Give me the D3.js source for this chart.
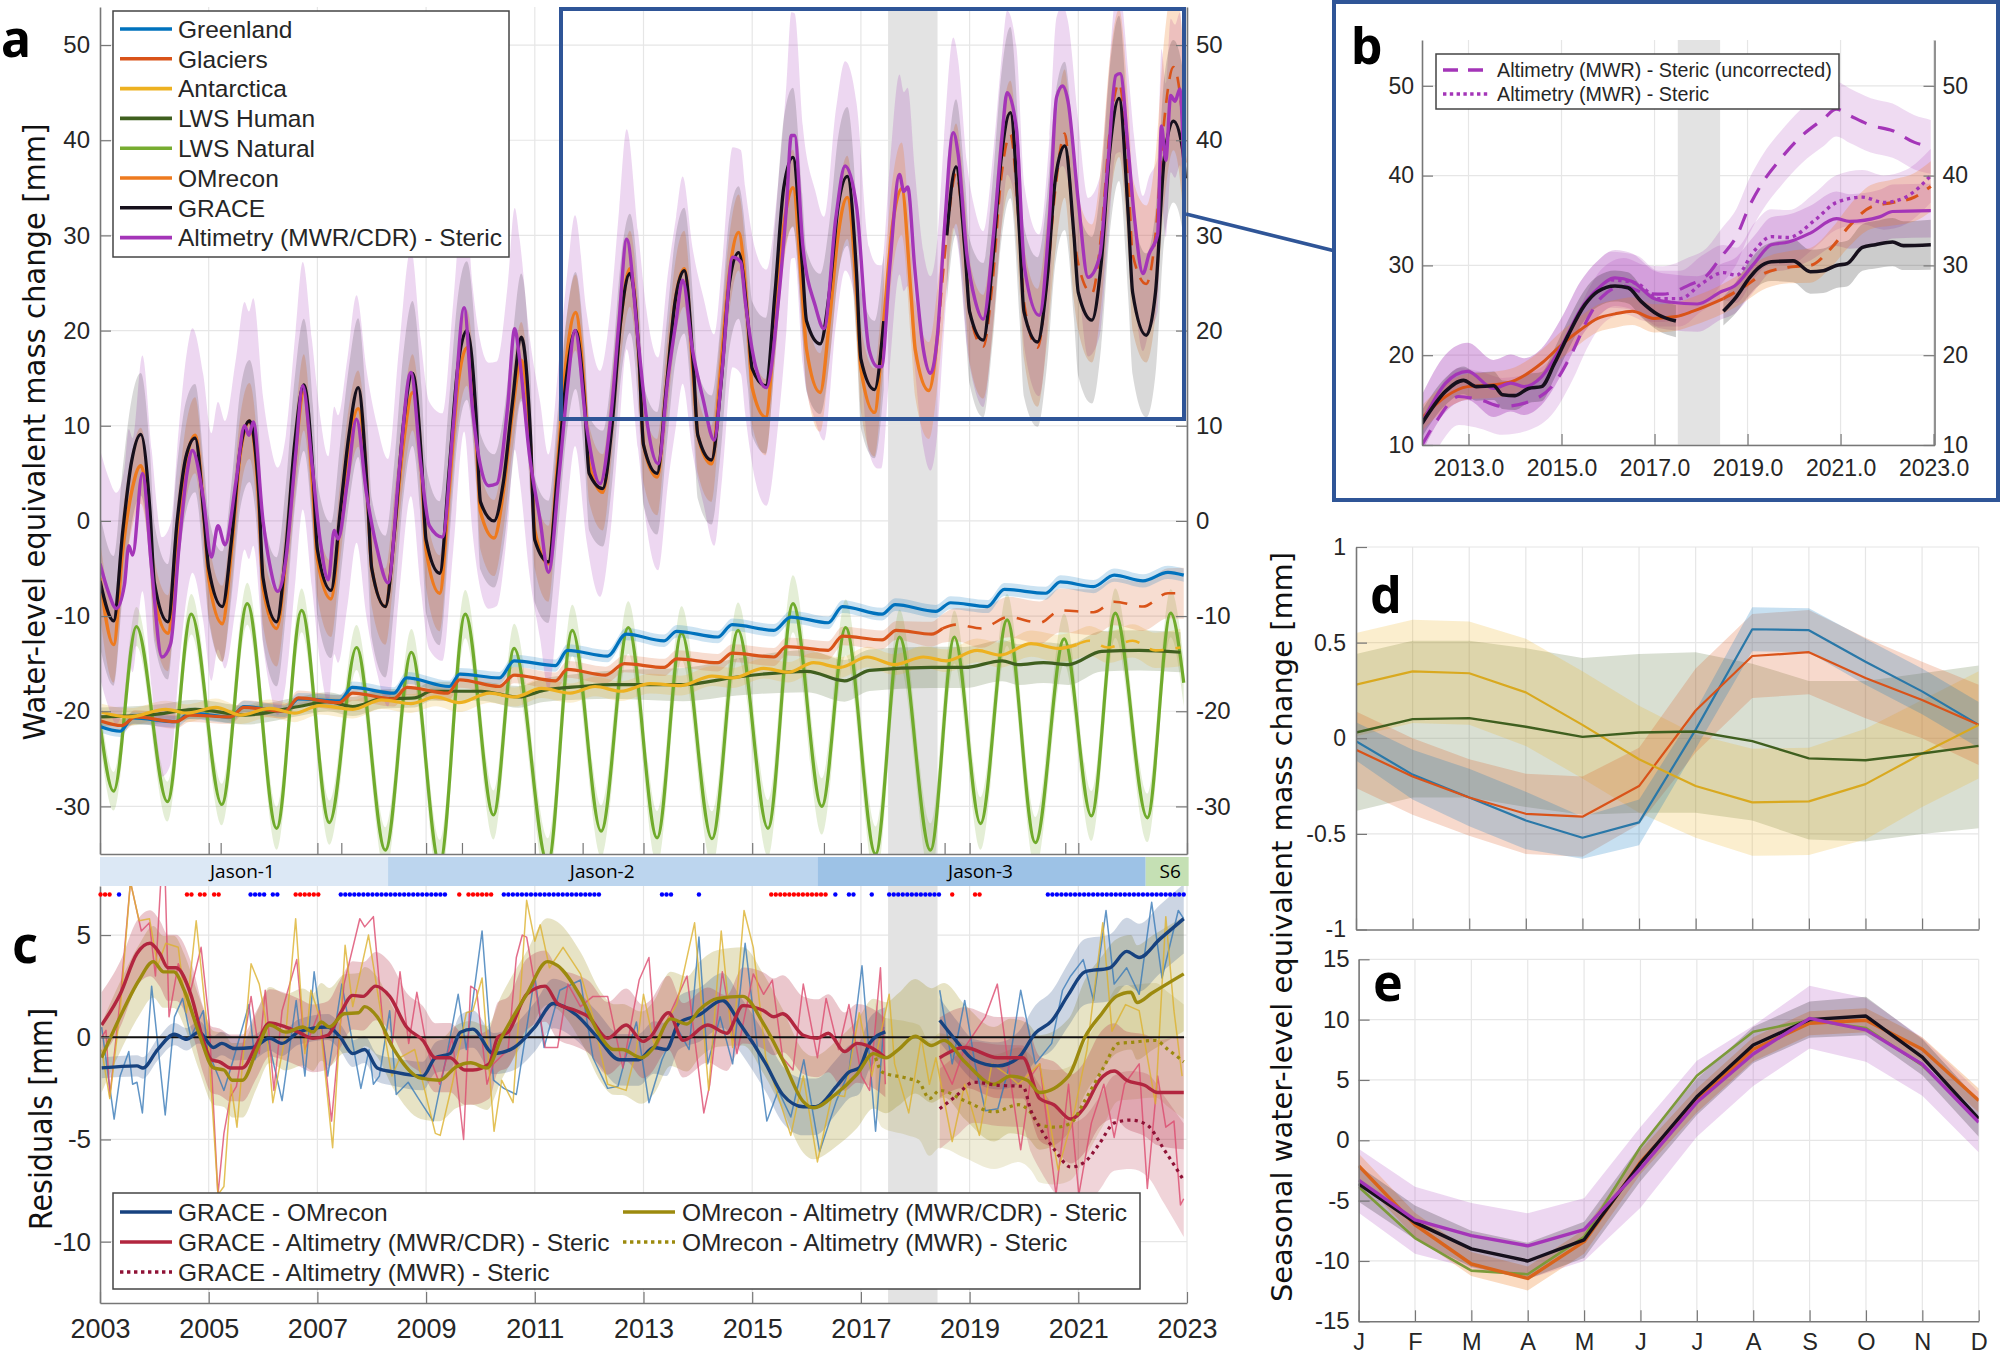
<!DOCTYPE html>
<html>
<head>
<meta charset="utf-8">
<script src="https://cdn.jsdelivr.net/npm/d3@7"></script>
<style>
html, body { margin: 0; padding: 0; background: #fff; }
svg { display: block; }
text { font-family: "Liberation Sans", Arial, sans-serif; fill: #262626; }
</style>
</head>
<body>
<div id="chart"></div>
<script>
// ---- panel a: values per year at Jan, Apr, Jun, Aug, Oct, Dec, plus a last point
const cycleOffsets = [0, .25, .42, .58, .75, .92];
const graceA = [
  -6.3, -10.5, -1, 6.2, 9.1, 1,
  -6.5, -10.6, 0, 6.7, 8.7, 0,
  -5, -9, -2, 7.5, 10.5, 3,
  -6, -10.6, -3, 8, 14.3, 5,
  -3, -7.3, 1, 9, 14, 3,
  -5, -9, -1, 10, 15.5, 6,
  -2, -5.5, 5, 16, 20, 11,
  2, 0, 4, 12, 19.3, 9,
  -2, -4.3, 5, 15, 20, 12,
  5, 3.4, 10, 21, 26, 17,
  8, 5, 14, 23, 26.3, 16,
  9, 6.4, 14, 25, 28.2, 21,
  16, 14.2, 24, 35, 38.2, 27,
  21, 18.6, 24, 33, 36.2, 26,
  17, 13.8, 21, null, null, null,
  null, null, null, 30, 37.2, 28,
  22, 19, 27, 38, 42.9, 30,
  22, 18.8, 25, 36, 39.4, 30,
  24, 21.1, 27, 39, 44.4, 32,
  24, 19.5, 24, 38, 42, 39,
  36
];
const omreconA = [
  -6, -13, -3, 3, 5.8, -1,
  -8, -11.8, -2, 6, 9, 0,
  -6, -10.8, -3, 7, 10.5, 2,
  -7, -11.3, -4, 6, 13.5, 3,
  -4, -8.2, 0, 8, 11.8, 3,
  -5, -9, -1, 8, 13.5, 5,
  -3, -7.6, 3, 14, 18.2, 9,
  1, -1.8, 3, 11, 16.9, 8,
  -1, -4.5, 6, 17, 21.9, 13,
  6, 3, 11, 21, 26.5, 17,
  8, 4.6, 14, 23, 26.5, 15,
  9, 6, 16, 26, 30.3, 21,
  14, 10.9, 21, 31, 35, 24,
  18, 13.5, 21, 30, 34, 24,
  16, 11.4, 21, 31, 34.9, 24,
  18, 13.7, 20, 30, 36.5, 28,
  22, 18.3, 25, 36, 40.6, 30,
  23, 18.2, 25, 35, 40.7, 30,
  27, 23.9, 30, 41, 46, 36,
  28, 24.9, 30, 42, 47.7, 42,
  37
];
const altimetryA = [
  [2003,-4.5],[2003.15,-7.4],[2003.3,-9.2],[2003.45,-6.7],[2003.53,-2.6],[2003.6,-3.6],[2003.78,5],[2003.95,-5],
  [2004.14,-14.3],[2004.3,-12.9],[2004.45,-3],[2004.6,5],[2004.7,7.4],[2004.9,2.4],[2005.05,-3.8],[2005.17,-.5],
  [2005.3,-2.5],[2005.5,4],[2005.66,10],[2005.74,9],[2005.82,10.4],[2006,0],[2006.12,-4.5],[2006.27,-7.4],
  [2006.42,-4],[2006.6,7],[2006.73,14.2],[2006.9,6],[2007.05,-2],[2007.2,-6.2],[2007.31,-1],[2007.38,-1.9],
  [2007.55,4],[2007.72,10.7],[2007.9,3],[2008.1,-3],[2008.3,-6.5],[2008.5,5],[2008.72,15.6],[2008.9,6],
  [2009.06,-.5],[2009.3,-1.7],[2009.5,10],[2009.7,22.4],[2009.85,12],[2010,5.8],[2010.15,3.7],[2010.3,3.9],
  [2010.5,12],[2010.63,20.2],[2010.72,17],[2010.9,7],[2011.1,0],[2011.25,-5.4],[2011.45,5],[2011.6,14],
  [2011.74,20],[2011.95,10],[2012.2,3.9],[2012.4,11],[2012.55,21],[2012.69,29.6],[2012.9,19],[2013.05,11],
  [2013.27,6],[2013.45,15],[2013.6,21],[2013.72,25.3],[2013.9,18],[2014.1,12.7],[2014.3,8.5],[2014.45,16],
  [2014.64,27.7],[2014.79,27.2],[2014.87,23.2],[2015.06,16.3],[2015.26,14],[2015.48,23],[2015.63,33],[2015.72,40.5],
  [2015.78,40.5],[2015.93,29],[2016.16,22.6],[2016.32,20.2],[2016.54,31.9],[2016.71,37.3],[2016.92,33],[2017.15,18],
  [2017.31,16.2],[2017.38,16.2],[2017.53,26.6],[2017.71,36.4],[2017.79,34.6],[2017.86,35.1],[2017.99,26.6],[2018.15,18],
  [2018.28,15.5],[2018.41,19.6],[2018.53,30.1],[2018.7,40.8],[2018.79,38.5],[2018.95,28],[2019.1,23.2],[2019.25,21.2],
  [2019.44,30.1],[2019.6,40.6],[2019.69,45],[2019.86,41.3],[2020.01,26.6],[2020.28,21.6],[2020.47,31.9],[2020.6,44.5],
  [2020.71,45.7],[2020.81,44.1],[2021,33.6],[2021.18,25.6],[2021.39,27.7],[2021.54,37.2],[2021.69,46.8],[2021.77,47],
  [2021.92,38.9],[2022.03,32],[2022.19,26],[2022.3,28],[2022.46,30.1],[2022.53,41.5],[2022.61,37.9],[2022.7,44.7],
  [2022.78,44.1],[2022.87,45.4],[2022.94,37]
];
const lwsNaturalA = [
  [2003,-21.3],[2003.25,-28.4],[2003.67,-11.1],[2004.24,-29.5],[2004.68,-9.8],[2005.24,-29.8],[2005.71,-8.7],
  [2006.25,-32.3],[2006.71,-9.4],[2007.22,-31.7],[2007.72,-13.3],[2008.25,-34.6],[2008.73,-13.8],[2009.25,-36],
  [2009.72,-9.8],[2010.24,-30.9],[2010.62,-13.4],[2011.24,-36],[2011.69,-11.5],[2012.22,-32.6],[2012.72,-11.2],
  [2013.25,-33.3],[2013.7,-11.8],[2014.26,-33.4],[2014.74,-11.5],[2015.29,-32.3],[2015.75,-8.7],[2016.28,-30],
  [2016.72,-11.2],[2017.27,-35],[2017.71,-12.2],[2018.28,-34.6],[2018.72,-12.2],[2019.2,-31.8],[2019.69,-10.4],
  [2020.21,-33.8],[2020.74,-12.4],[2021.24,-31],[2021.68,-9.7],[2022.27,-31.2],[2022.7,-9.7],[2022.94,-17]
];
const greenlandA = [
  [2003,-21.6],[2003.37,-22.1],[2003.6,-20.7],[2004.4,-21.1],[2004.65,-20.2],[2005.4,-20.6],[2005.65,-19.5],[2006.4,-20],
  [2006.65,-18.7],[2007.41,-18.9],[2007.64,-17.5],[2008.41,-18.1],[2008.64,-16.5],[2009.43,-17.4],[2009.62,-16.1],[2010.35,-16.5],
  [2010.62,-14.7],[2011.38,-15.2],[2011.6,-13.6],[2012.34,-14.2],[2012.68,-11.9],[2013.38,-12.6],[2013.61,-11.6],[2014.37,-12.2],
  [2014.63,-10.9],[2015.4,-11.5],[2015.71,-10.1],[2016.4,-10.7],[2016.66,-9],[2017.39,-9.8],[2017.63,-8.8],[2018.38,-9.5],
  [2018.65,-8.6],[2019.33,-9],[2019.64,-7.2],[2020.4,-7.6],[2020.67,-6.4],[2021.28,-6.9],[2021.66,-5.7],[2022.19,-6.3],
  [2022.65,-5.4],[2022.94,-5.7]
];
const glaciersA = [
  [2003,-21],[2003.4,-21.5],[2003.65,-20.6],[2004.4,-21.1],[2004.65,-20.4],[2005.4,-20.6],[2005.65,-19.6],[2006.4,-20],
  [2006.65,-18.6],[2007.4,-19.1],[2007.65,-18.1],[2008.4,-18.7],[2008.65,-17.5],[2009.4,-18.1],[2009.62,-16.7],[2010.35,-17.4],
  [2010.62,-16.2],[2011.38,-16.8],[2011.6,-15.6],[2012.3,-16.2],[2012.65,-15],[2013.38,-15.4],[2013.61,-14.5],[2014.37,-14.9],
  [2014.63,-13.9],[2015.4,-14.3],[2015.63,-13.2],[2016.4,-13.6],[2016.66,-12.1],[2017.39,-12.5],[2017.65,-11.5],[2018.3,-11.9],
  [2018.5,-11.3]
];
const glaciersDashA = [
  [2018.5,-11.3],[2018.76,-10.9],[2019.22,-11.3],[2019.71,-10.1],[2020.29,-10.7],[2020.67,-9.4],[2021.28,-9.6],[2021.66,-8.5],
  [2022.19,-9],[2022.65,-7.6],[2022.94,-7.6]
];
const antarcticaA = [
  [2003.03,-20.1],[2003.53,-20.6],[2004.21,-19.8],[2004.6,-20.2],[2005.13,-19.6],[2005.59,-20.4],[2006.12,-19.7],[2006.58,-20.2],
  [2007.04,-19.4],[2007.65,-19.8],[2008.18,-18.8],[2008.72,-19.2],[2009.18,-18.5],[2009.6,-19.1],[2010.17,-18.1],[2010.63,-18.5],
  [2011.12,-17.6],[2011.65,-18.1],[2012.11,-17.4],[2012.58,-17.9],[2013.12,-17.1],[2013.69,-17.3],[2014.26,-16.3],[2014.64,-16.5],
  [2015.21,-15.5],[2015.67,-15.9],[2016.13,-14.9],[2016.62,-15.4],[2017.12,-14.3],[2017.62,-15.1],[2018.15,-14.3],[2018.57,-14.7],
  [2019.14,-13.6],[2019.56,-14.1],[2020.13,-12.9],[2020.63,-13.4],[2020.97,-13]
];
const antarcticaDashA = [
  [2020.97,-13],[2021.2,-12.6],[2021.54,-13.3],[2022,-12.6],[2022.42,-13.6],[2022.88,-13.3]
];
const lwsHumanA = [
  [2003,-20.6],[2004.06,-20.3],[2004.75,-19.8],[2005.66,-20.4],[2006.66,-19.5],[2007.19,-19],[2007.65,-19.5],[2008.18,-18.7],
  [2008.79,-18.6],[2009.1,-17.9],[2010.01,-17.9],[2010.7,-18.5],[2011.16,-17.8],[2011.85,-17.4],[2012.43,-17.2],[2013.73,-17.2],
  [2014.72,-16.4],[2016.01,-15.8],[2016.7,-16.8],[2017.16,-15.7],[2018.3,-15.4],[2018.91,-15.4],[2019.6,-14.7],[2019.9,-15.1],
  [2020.36,-14.9],[2020.82,-15.1],[2021.43,-13.7],[2022.12,-13.6],[2022.88,-13.8]
];
// half widths of the uncertainty bands: [year, half width]
const altimetryHalfA = [[2003,12],[2005,13],[2008,13],[2010,13],[2012,12],[2014,10.7],[2015.7,13],[2016.7,11],[2018.7,10],[2019.7,8.6],[2023,8]];
const graceHalfA = [[2003,7],[2005,5.5],[2006,6.7],[2009,7.7],[2012,6],[2016,7.4],[2018.7,7],[2019.7,9],[2023,8.5]];
const omreconHalfA = [[2003,4],[2016,4],[2018,5],[2019.7,5.6],[2021,7],[2023,9]];
const lwsNaturalHalf = [[2003,2],[2015.7,3],[2023,2.5]];
const greenlandHalf = [[2003,.6],[2023,.7]];
const glaciersHalf = [[2003,.7],[2018,1],[2019,2],[2023,2.7]];
const antarcticaHalf = [[2003,.9],[2018,1.1],[2021,1.5],[2023,2]];
const lwsHumanHalf = [[2003,1],[2010,1],[2016,2.2],[2023,2.1]];

const yTicksA = [-30, -20, -10, 0, 10, 20, 30, 40, 50];
const xTicksYears = [2003, 2005, 2007, 2009, 2011, 2013, 2015, 2017, 2019, 2021, 2023];
const xExtraTicksA = [2005.22, 2007.44, 2009.66, 2011.88, 2014.1, 2016.32, 2018.54, 2020.76];
const gapYears = [2017.5, 2018.41];

// ---- panel b
const graceB = [
  [2012,12.4],[2012.51,16],[2012.89,17.2],[2013.17,16.5],[2013.54,16.6],[2013.73,15.6],[2014,15.5],[2014.29,16.3],[2014.57,16.5],
  [2014.85,19.1],[2015.13,22.1],[2015.5,25.6],[2015.78,27.1],[2016.15,27.7],[2016.43,27.5],[2016.71,26],[2017.08,24.5],[2017.46,23.8],
  [2018,null],
  [2018.48,24.9],[2018.76,26.5],[2019.04,28.6],[2019.23,29.7],[2019.51,30.4],[2019.98,30.5],[2020.35,29.3],[2020.63,29.4],[2020.91,30],
  [2021.14,30.2],[2021.47,32],[2021.75,32.3],[2022.12,32.6],[2022.35,32.2],[2022.94,32.3]
];
const altimetryB = [
  [2012,12.4],[2012.51,16.9],[2012.98,18.2],[2013.54,16.3],[2013.91,16.9],[2014.19,16.5],[2014.57,17.6],[2015.03,21.3],[2015.4,25],
  [2015.78,27.4],[2016.15,28.6],[2016.52,28.2],[2016.99,26.3],[2017.36,25.9],[2017.92,25.7],[2018.44,27.1],[2018.72,27.7],[2019.14,30.2],
  [2019.51,32.3],[2019.88,32.6],[2020.35,33.6],[2020.91,35.2],[2021.19,34.9],[2021.84,35.4],[2022.12,36],[2022.94,36.1]
];
const uncorrectedB = [
  [2012,10],[2012.33,12.8],[2012.79,15.4],[2013.26,15],[2013.73,14.3],[2014.29,14.8],[2014.85,16.9],[2015.22,20.2],[2015.59,24.3],
  [2015.87,26.5],[2016.34,27.7],[2016.8,26.9],[2017.18,26.8],[2017.74,27.8],[2018.11,28.8],[2018.44,31],[2018.76,33.2],[2019.04,36.6],
  [2019.32,39.2],[2019.7,41.8],[2020.16,44.4],[2020.63,46.3],[2020.91,47.4],[2021.19,46.7],[2021.65,45.6],[2022.12,45],[2022.59,43.7],[2022.94,43.2]
];
const dottedB = [
  [2016.06,28.4],[2016.62,28],[2017.08,26.3],[2017.55,26.3],[2018.02,28],[2018.48,29.2],[2018.76,28.9],[2019.14,31.6],[2019.51,33.2],
  [2019.88,33.1],[2020.44,35],[2020.91,37],[2021.47,37.6],[2021.93,37],[2022.4,37.6],[2022.94,40]
];
const omreconB = [
  [2012,13],[2012.51,15.4],[2012.98,16.5],[2013.54,16.7],[2014,17.2],[2014.57,19.1],[2015.03,21.3],[2015.4,22.8],[2015.78,24.1],
  [2016.15,24.6],[2016.52,24.9],[2016.99,24.1],[2017.46,24.3],[2017.83,24.9],[2018.48,26.3]
];
const omreconDashB = [
  [2018.48,26.3],[2018.95,27.7],[2019.32,29],[2019.88,29.8],[2020.35,30],[2020.81,32],[2021.19,34.4],[2021.65,36.5],[2022.12,37],[2022.59,37.6],[2022.94,38.8]
];
const graceHalfB = [[2012,1.5],[2017.5,1.8],[2018.5,1.6],[2020,2.4],[2023,2.8]];
const omreconHalfB = [[2012,1.4],[2018,1.6],[2020,1.8],[2021.5,2.4],[2023,2.8]];
const altimetryHalfB = [[2012,3.2],[2023,3]];
const yTicksB = [10, 20, 30, 40, 50];
const xTicksB = [2013, 2015, 2017, 2019, 2021, 2023];

// ---- panel c
const missionNames = ['Jason-1', 'Jason-2', 'Jason-3', 'S6'];
const missionStarts = [2003, 2008.3, 2016.2, 2022.24];
const missionEnds = [2008.3, 2016.2, 2022.24, 2023.03];
const missionTextX = [2005.62, 2012.24, 2019.2, 2022.69];
const blueRuns = [[2003.35,2003.35],[2005.77,2006.04],[2006.18,2006.29],[2007.43,2009.38],[2010.43,2012.2],[2013.34,2013.53],[2014.02,2014.02],
  [2016.53,2016.53],[2016.78,2016.87],[2017.2,2017.2],[2017.52,2018.45],[2020.44,2022.96]];
const redRuns = [[2003.01,2003.2],[2004.6,2004.71],[2004.84,2004.95],[2005.1,2005.2],[2006.6,2007.04],[2009.61,2009.61],[2009.78,2010.19],
  [2015.35,2016.38],[2018.68,2018.68],[2019.1,2019.2]];

const thinGraceOm = [
  [2003.03,.5],[2003.26,-4],[2003.37,-1.9],[2003.53,-.7],[2003.6,-2.3],[2003.68,-2.2],[2003.78,-3.7],[2003.95,2.5],[2004.2,-3.8],[2004.37,1],
  [2004.52,1.9],[2004.67,0],[2004.9,1.3],[2004.98,-.6],[2005.28,-2.6],[2005.43,-1.3],[2005.74,1.6],[2005.85,-1.1],[2006.04,.5],[2006.35,-3.1],
  [2006.61,1.8],[2006.77,-1.9],[2006.94,3.2],[2007.19,-1.9],[2007.45,2.6],[2007.8,-2.5],[2007.95,-.6],[2008.03,-2.3],[2008.14,-1.9],[2008.33,1.3],
  [2008.45,-2.8],[2008.67,-2.2],[2008.86,-3],[2009.13,-4.1],[2009.4,-.6],[2009.59,2.1],[2009.74,-.6],[2010.03,5.2],[2010.24,-2.1],[2010.43,-2.5],
  [2010.66,-2.8],[2011,3],[2011.17,-.5],[2011.46,2.3],[2011.84,2.8],[2012.07,-1],[2012.34,-2.5],[2012.53,-2.4],[2012.68,-.9],[2012.87,.75],
  [2013.1,-3.2],[2013.34,-1.1],[2013.61,.5],[2013.84,-.6],[2014.02,4.9],[2014.18,-1.3],[2014.41,1],[2014.64,-1.3],[2014.87,4.6],[2015.14,-1.5],
  [2015.27,-4.1],[2015.48,-2.6],[2015.71,-3.9],[2015.95,-1.1],[2016.24,-5.6],[2016.55,-3.1],[2016.78,-1.7],[2017.02,3.5],[2017.27,-4.6],[2017.42,.5],
  [2018,null],
  [2018.45,2.3],[2018.68,-1.3],[2018.91,1.8],[2019.1,-1.3],[2019.29,-3.6],[2019.52,-3.5],[2019.71,-1.6],[2019.94,2.3],[2020.21,-1.3],[2020.51,-.3],
  [2020.71,2.3],[2020.86,3],[2021.09,3.8],[2021.28,1.8],[2021.51,6.2],[2021.66,2.6],[2021.89,3.4],[2022.12,2.1],[2022.35,6.6],[2022.54,2.9],
  [2022.84,6.2],[2022.94,5.8]
];
const thinGraceAlt = [
  [2003.03,0],[2003.11,.34],[2003.18,-2.9],[2003.37,1.8],[2003.56,7.6],[2003.76,5.2],[2003.91,5.6],[2004.02,3],[2004.12,7.7],[2004.2,7.7],
  [2004.27,1],[2004.44,3.6],[2004.67,2.3],[2004.86,4.4],[2005.01,.7],[2005.17,-7.7],[2005.28,-4.7],[2005.4,-2.9],[2005.51,-2.4],[2005.66,0],
  [2005.78,2],[2005.93,-.8],[2006.04,2.3],[2006.2,-2.6],[2006.35,1.3],[2006.62,3.8],[2006.77,-.6],[2006.88,.2],[2007.04,1.3],[2007.26,-4.1],
  [2007.49,2.6],[2007.78,5.8],[2007.87,5.4],[2008.03,5.9],[2008.22,.2],[2008.37,-.5],[2008.52,3.2],[2008.68,-.3],[2008.83,2.2],[2009.02,-.6],
  [2009.25,-2.3],[2009.48,0],[2009.69,-5],[2009.82,2.5],[2009.93,2.3],[2010.12,-2.3],[2010.24,-1.3],[2010.51,-.6],[2010.66,3.9],[2010.77,5],
  [2010.85,4.9],[2011,2.6],[2011.19,-.5],[2011.42,-.5],[2011.61,2.6],[2011.84,1.5],[2012.07,2],[2012.34,2],[2012.62,-1.5],[2012.92,2.8],
  [2013.1,3.9],[2013.23,-.6],[2013.46,1],[2013.8,3],[2014.11,-3.7],[2014.22,-2.3],[2014.45,3.2],[2014.72,-.8],[2015.02,3.1],[2015.21,2.1],
  [2015.37,2.8],[2015.56,-1],[2015.75,-1.6],[2015.94,2.6],[2016.2,-1],[2016.36,1.9],[2016.59,-.6],[2016.78,1.6],[2017.01,-1.9],[2017.16,-2.6],
  [2017.36,3.4],[2017.45,-2.3],
  [2018,null],
  [2018.45,-1],[2018.68,-2.3],[2018.91,-.5],[2019.29,1],[2019.51,2.6],[2019.71,-1.3],[2019.94,-5.5],[2020.13,-1.9],[2020.29,-1.3],[2020.59,-7.7],
  [2020.82,-2.3],[2021.01,-7.7],[2021.24,-4.2],[2021.47,-2.3],[2021.66,-4.9],[2021.85,-2.3],[2022.12,-1.3],[2022.27,-7.4],[2022.46,-1.9],[2022.61,-4.4],
  [2022.76,-4.1],[2022.88,-8.2],[2022.94,-7.9]
];
const thinOmAlt = [
  [2003.03,-.6],[2003.18,-3],[2003.37,1.3],[2003.56,7.6],[2003.72,5.7],[2003.91,5.8],[2004.06,3.5],[2004.21,4.6],[2004.44,4.4],[2004.59,1.2],
  [2004.77,5.7],[2004.98,.3],[2005.17,-7.7],[2005.28,-7.3],[2005.41,-2.3],[2005.52,-4.4],[2005.66,-.15],[2005.78,3.6],[2005.93,2.6],[2006.04,1],
  [2006.18,-3.2],[2006.42,.2],[2006.6,5.8],[2006.77,-.8],[2006.88,2.3],[2007.04,1],[2007.28,-5.4],[2007.51,4.5],[2007.65,1.5],[2007.94,5],
  [2008.18,1],[2008.37,-1.9],[2008.52,-1],[2008.79,-.6],[2009.17,-4.7],[2009.26,-4.8],[2009.48,-2.3],[2009.74,1.2],[2009.86,1.3],[2010.03,2.9],
  [2010.25,-4.6],[2010.39,-2.1],[2010.6,-3.2],[2010.85,6.7],[2011,4.7],[2011.1,5.5],[2011.27,3.4],[2011.52,4.4],[2011.84,3.1],[2012.07,1],
  [2012.34,-2.3],[2012.68,-2.6],[2012.87,-.6],[2013,2.1],[2013.19,-.3],[2013.61,1.6],[2013.94,5.6],[2014.2,-2.6],[2014.43,5.2],[2014.64,-.5],
  [2014.85,6.2],[2015.02,4.4],[2015.25,-1],[2015.71,-4.8],[2015.94,-1.9],[2016.2,-6.1],[2016.47,-2.8],[2016.7,-2.9],[2016.97,1.2],[2017.2,-1.9],
  [2017.52,2.1],[2017.62,-1.3],[2017.88,-3.7],[2018.11,0],[2018.26,-2.3],[2018.38,-1],[2018.68,-5.1],[2018.91,-2.3],[2019.18,-4.8],[2019.41,-1.3],
  [2019.68,-1.8],[2019.9,-2.3],[2020.29,-1.3],[2020.63,-6.5],[2020.93,-3.6],[2021.16,-.6],[2021.45,5.6],[2021.62,.3],[2021.87,1.6],[2022.12,1.3],
  [2022.42,-3.25],[2022.61,5.9],[2022.76,1.3],[2022.91,-1.9]
];
const resGraceOm = [
  [2003.03,-1.5],[2003.68,-1.4],[2003.79,-1.5],[2004.06,-.6],[2004.37,.15],[2004.59,-.1],[2004.82,.25],[2005.09,-.5],[2005.24,-.3],[2005.47,-.55],
  [2005.81,-.5],[2006.12,-.05],[2006.35,-.3],[2006.65,.25],[2007.19,.5],[2007.42,0],[2007.65,-.8],[2007.87,-.6],[2008.1,-1.5],[2008.41,-1.7],
  [2008.94,-1.9],[2009.17,-1],[2009.44,-.8],[2009.63,.25],[2009.86,.4],[2010.24,-.8],[2010.62,-.5],[2011,.5],[2011.34,1.65],[2011.76,1.1],
  [2012.15,0],[2012.56,-1.1],[2012.91,-1.1],[2013.19,-.5],[2013.42,-.6],[2013.65,.7],[2014.03,1.1],[2014.45,1.8],[2014.79,.6],[2015.25,-1.3],
  [2015.56,-2.8],[2015.94,-3.4],[2016.17,-3.4],[2016.55,-2.4],[2016.78,-1.7],[2016.97,-1.5],[2017.16,-.3],[2017.45,.26],
  [2018,null],
  [2018.45,.83],[2018.76,-.2],[2019.07,-1.1],[2019.52,-1.4],[2019.9,-1],[2020.21,.2],[2020.51,.8],[2020.82,2.1],[2021.12,3.2],[2021.58,3.4],
  [2021.89,4.2],[2022.12,3.9],[2022.5,4.8],[2022.94,5.8]
];
const resGraceAlt = [
  [2003.03,.6],[2003.37,2.1],[2003.68,4.1],[2003.92,4.6],[2004.1,4.1],[2004.25,3.4],[2004.4,3.4],[2004.67,2.1],[2004.9,-.15],[2005.05,-1.1],
  [2005.2,-1.2],[2005.4,-1.5],[2005.62,-1.5],[2005.89,-.3],[2006.12,.7],[2006.42,.5],[2006.65,.25],[2006.92,-.05],[2007.19,.1],[2007.42,1.15],
  [2007.65,2.05],[2007.84,2],[2008.07,2.5],[2008.33,2],[2008.64,.5],[2008.94,-.15],[2009.17,-1],[2009.44,-1],[2009.71,-1.6],[2009.86,-1.6],
  [2010.16,-1.3],[2010.32,0],[2010.51,.25],[2010.85,2.1],[2011.19,2.5],[2011.42,1.65],[2011.76,1.3],[2011.99,1],[2012.34,-.05],[2012.68,.6],
  [2012.99,-.2],[2013.12,0],[2013.46,1.2],[2013.73,-.15],[2014.18,.6],[2014.53,.2],[2014.83,1.55],[2015.21,1.3],[2015.4,1],[2015.56,1.15],
  [2015.94,.1],[2016.2,-.05],[2016.4,.2],[2016.7,-.7],[2016.93,-.3],[2017.31,-.7],[2017.45,-1],
  [2018,null],
  [2018.45,-1],[2018.91,-.5],[2019.52,-1],[2019.98,-1],[2020.29,-3],[2020.55,-3.3],[2020.86,-4],[2021.12,-3.4],[2021.39,-2.1],[2021.66,-1.65],
  [2021.89,-2.1],[2022.22,-2.35],[2022.46,-2.7],[2022.94,-2.7]
];
const resOmAlt = [
  [2003.03,-1],[2003.37,1],[2003.72,2.8],[2003.98,3.7],[2004.17,3.2],[2004.36,3.2],[2004.55,2.3],[2004.82,.2],[2005.09,-1.5],[2005.28,-1.6],
  [2005.43,-2.1],[2005.62,-2.1],[2005.89,-.6],[2006.12,.6],[2006.42,.25],[2006.73,.5],[2006.92,.25],[2007.07,.75],[2007.22,.5],[2007.49,1.15],
  [2007.76,1.2],[2007.87,1.5],[2008.1,1],[2008.41,-.6],[2008.9,-2],[2009.25,-2.1],[2009.55,-1.45],[2009.82,-1.25],[2010.12,-1.5],[2010.39,0],
  [2010.85,2.1],[2011.23,3.7],[2011.42,3.5],[2011.84,2],[2012.22,0],[2012.45,-.6],[2012.61,-.6],[2012.96,-1],[2013.19,-.5],[2013.5,.9],
  [2013.8,.65],[2014.03,1.35],[2014.37,1.9],[2014.83,2],[2015.21,.65],[2015.56,-1.1],[2015.94,-3.15],[2016.13,-3.45],[2016.55,-2.75],[2016.93,-1.8],
  [2017.23,-.8],[2017.46,-1],[2017.69,-.6],[2018,.05],[2018.3,-.4],[2018.53,-.15],[2018.91,-1.2],[2019.45,-2.3],[2019.75,-1.9],[2020.06,-2.1],
  [2020.29,-2.7],[2020.82,-1.9],[2021.12,0],[2021.43,1.15],[2021.7,2],[2021.97,2.2],[2022.08,1.7],[2022.35,2.15],[2022.94,3.1]
];
const resOmAltDot = [
  [2017.27,-1],[2017.39,-1.7],[2017.84,-2],[2018.07,-2.2],[2018.26,-3],[2018.45,-2.6],[2018.91,-3.1],[2019.45,-3.65],[2019.9,-3.3],[2020.13,-3.7],
  [2020.29,-4.3],[2020.59,-4.4],[2020.86,-4.2],[2021.12,-3.1],[2021.47,-1.45],[2021.74,-.3],[2021.97,-.25],[2022.42,-.15],[2022.65,-.6],[2022.94,-1.2]
];
const resGraceAltDot = [
  [2018.45,-3.5],[2018.76,-2.85],[2019.07,-2.2],[2019.52,-2.35],[2019.98,-2.4],[2020.13,-3.6],[2020.29,-4.4],[2020.59,-5.6],[2020.86,-6.35],[2021.12,-6.1],
  [2021.39,-5.2],[2021.66,-4.2],[2021.97,-4.05],[2022.27,-4.3],[2022.58,-5.5],[2022.94,-7]
];
const navyHalf = [[2003,.5],[2009,.7],[2011,1.2],[2016,1.4],[2019,1],[2021,1.6],[2023,1.7]];
const crimsonHalf = [[2003,1.6],[2010,1.7],[2016,1.9],[2020,2],[2022,2.4],[2023,2.8]];
const oliveHalf = [[2003,1.7],[2011,2.1],[2016,2.5],[2018,2.8],[2023,2.8]];
const yTicksC = [-10, -5, 0, 5];

// ---- panels d and e
const monthLabels = ['J', 'F', 'M', 'A', 'M', 'J', 'J', 'A', 'S', 'O', 'N', 'D'];
const greenlandD = [-.016, -.19, -.31, -.43, -.52, -.44, .045, .57, .565, .40, .245, .07];
const glaciersD = [-.06, -.2, -.31, -.395, -.41, -.25, .145, .43, .45, .315, .2, .07];
const antarcticaD = [.28, .35, .34, .24, .07, -.11, -.25, -.335, -.33, -.24, -.08, .07];
const lwsHumanD = [.03, .1, .105, .06, .007, .03, .035, -.015, -.105, -.115, -.08, -.04];
const greenlandHalfD = [.1, .13, .15, .15, .11, .12, .1, .115, .115, .12, .12, .12];
const glaciersHalfD = [.2, .2, .2, .21, .21, .2, .22, .22, .22, .21, .2, .21];
const antarcticaHalfD = [.27, .27, .27, .28, .28, .28, .27, .28, .28, .29, .28, .28];
const lwsHumanUpD = [.44, .51, .51, .47, .42, .44, .45, .39, .3, .3, .34, .38];
const lwsHumanLowD = [-.38, -.31, -.31, -.36, -.4, -.39, -.39, -.43, -.53, -.54, -.5, -.47];
const yTicksD = [-1, -.5, 0, .5, 1];

const graceE = [-3.6, -6.8, -9, -10, -8.25, -1.9, 3.6, 7.9, 10, 10.3, 6.9, 1.8];
const omreconE = [-2.1, -7, -10.25, -11.45, -8.4, -1.8, 3.3, 7.55, 9.7, 9.95, 7.55, 3.3];
const lwsNaturalE = [-3.85, -8.1, -10.8, -11.1, -8, -.55, 5.35, 9, 9.95, 9.3, 6.2, 1.8];
const altimetryE = [-3.3, -6.6, -7.9, -8.75, -7.4, -2.35, 3.15, 7.15, 10.1, 9.15, 6.3, 1.5];
const altimetryUpE = [-.7, -3.85, -5.2, -6.05, -4.8, 1.1, 6.6, 9.5, 12.8, 11.8, 8.5, 4];
const altimetryLowE = [-6, -9.4, -10.6, -11.5, -10, -5.6, .3, 4.5, 7.6, 6.5, 3.7, -1];
const graceHalfE = [1.5, 1.4, 1.5, 1.5, 1.5, 1.5, 1.5, 1.5, 1.5, 1.6, 1.5, 1.5];
const omreconHalfE = [1, 1, 1, 1, 1, 1, 1, 1, 1, 1, 1, 1];
const yTicksE = [-15, -10, -5, 0, 5, 10, 15];

// ---- legends
const legendA = ['Greenland', 'Glaciers', 'Antarctica', 'LWS Human', 'LWS Natural', 'OMrecon', 'GRACE', 'Altimetry (MWR/CDR) - Steric'];
const legendB = ['Altimetry (MWR) - Steric (uncorrected)', 'Altimetry (MWR) - Steric'];
const legendC1 = ['GRACE - OMrecon', 'GRACE - Altimetry (MWR/CDR) - Steric', 'GRACE - Altimetry (MWR) - Steric'];
const legendC2 = ['OMrecon - Altimetry (MWR/CDR) - Steric', 'OMrecon - Altimetry (MWR) - Steric'];

const c = {
    greenland: '#0072bd', glaciers: '#d95319', antarctica: '#edb120', human: '#3f5f1f', natural: '#77ac30',
    omrecon: '#ee7a1e', grace: '#16101c', altimetry: '#a435b8', navy: '#17427f', crimson: '#b2263f',
    olive: '#9c8a0e', crimsonDark: '#8f1236', box: '#2f5597', grid: '#e6e6e6', axis: '#777', gap: '#e3e3e3'
};

const svg = d3.select('#chart').append('svg').attr('width', 2000).attr('height', 1355);
svg.append('rect').attr('width', 2000).attr('height', 1355).attr('fill', '#fff');

let clipCount = 0;
function makePanel (left, right, top, bottom, xDomain, yDomain) {
    const x = d3.scaleLinear().domain(xDomain).range([left, right]);
    const y = d3.scaleLinear().domain(yDomain).range([bottom, top]);
    const id = 'clip' + (clipCount++);
    svg.append('clipPath').attr('id', id).append('rect')
        .attr('x', left).attr('y', top).attr('width', right - left).attr('height', bottom - top);
    const back = svg.append('g');
    const g = svg.append('g').attr('clip-path', `url(#${id})`);
    const front = svg.append('g');
    return { left, right, top, bottom, x, y, back, g, front };
}

function grid (p, xs, ys) {
    p.back.selectAll(null).data(xs).join('line')
        .attr('x1', d => p.x(d)).attr('x2', d => p.x(d)).attr('y1', p.top).attr('y2', p.bottom)
        .attr('stroke', c.grid).attr('stroke-width', 1.2);
    p.back.selectAll(null).data(ys).join('line')
        .attr('y1', d => p.y(d)).attr('y2', d => p.y(d)).attr('x1', p.left).attr('x2', p.right)
        .attr('stroke', c.grid).attr('stroke-width', 1.2);
}

function gapShade (p) {
    p.back.append('rect')
        .attr('x', p.x(gapYears[0])).attr('width', p.x(gapYears[1]) - p.x(gapYears[0]))
        .attr('y', p.top).attr('height', p.bottom - p.top)
        .attr('fill', c.gap);
}

function styleAxis (sel, size) {
    sel.selectAll('.domain').attr('stroke', c.axis).attr('stroke-width', 1.6);
    sel.selectAll('.tick line').attr('stroke', c.axis).attr('stroke-width', 1.2);
    sel.selectAll('text').attr('font-size', size).attr('fill', '#262626')
        .attr('font-family', '"Liberation Sans", Arial, sans-serif');
}

function leftAxis (p, ticks, size, pad) {
    const s = p.front.append('g').attr('transform', `translate(${p.left},0)`)
        .call(d3.axisLeft(p.y).tickValues(ticks).tickSize(-11).tickSizeOuter(0).tickPadding(pad).tickFormat(d => String(d)));
    styleAxis(s, size);
}

function rightAxis (p, ticks, size, pad) {
    const s = p.front.append('g').attr('transform', `translate(${p.right},0)`)
        .call(d3.axisRight(p.y).tickValues(ticks).tickSize(-11).tickSizeOuter(0).tickPadding(pad).tickFormat(d => String(d)));
    styleAxis(s, size);
}

function bottomAxis (p, ticks, fmt, size, pad) {
    const s = p.front.append('g').attr('transform', `translate(0,${p.bottom})`)
        .call(d3.axisBottom(p.x).tickValues(ticks).tickSize(-11).tickSizeOuter(0).tickPadding(pad).tickFormat(fmt || (() => '')));
    styleAxis(s, size);
    if (!fmt) s.selectAll('.tick text').remove();
}

function drawLine (p, pts, color, width, opts) {
    const o = opts || {};
    const line = d3.line().defined(d => d[1] !== null).x(d => p.x(d[0])).y(d => p.y(d[1]))
        .curve(o.curve || d3.curveMonotoneX);
    p.g.append('path').datum(pts).attr('d', line).attr('fill', 'none')
        .attr('stroke', color).attr('stroke-width', width)
        .attr('stroke-dasharray', o.dash || null).attr('stroke-linejoin', 'round')
        .attr('stroke-linecap', o.cap || 'butt').attr('opacity', o.opacity === undefined ? 1 : o.opacity);
}

function drawBand (p, pts, knots, color, opacity, curve) {
    const half = d3.scaleLinear().domain(knots.map(k => k[0])).range(knots.map(k => k[1]));
    const area = d3.area().defined(d => d[1] !== null).x(d => p.x(d[0]))
        .y0(d => p.y(d[1] - half(d[0]))).y1(d => p.y(d[1] + half(d[0])))
        .curve(curve || d3.curveMonotoneX);
    p.g.append('path').datum(pts).attr('d', area).attr('fill', color).attr('opacity', opacity);
}

function drawRange (p, lows, ups, color, opacity) {
    const area = d3.area().x((d, i) => p.x(i)).y0((d, i) => p.y(lows[i])).y1((d, i) => p.y(ups[i]));
    p.g.append('path').datum(lows).attr('d', area).attr('fill', color).attr('opacity', opacity);
}

function legendBox (x0, x1, y0, y1) {
    svg.append('rect').attr('x', x0).attr('y', y0).attr('width', x1 - x0).attr('height', y1 - y0)
        .attr('fill', '#fff').attr('stroke', '#444').attr('stroke-width', 1.5);
}

function legendRow (x0, x1, tx, y, label, color, size, dash) {
    svg.append('line').attr('x1', x0).attr('x2', x1).attr('y1', y).attr('y2', y)
        .attr('stroke', color).attr('stroke-width', 3.6).attr('stroke-dasharray', dash || null);
    svg.append('text').attr('x', tx).attr('y', y).attr('dy', '.36em').attr('font-size', size).text(label);
}

function panelLabel (x, y, s) {
    svg.append('text').attr('x', x).attr('y', y).attr('font-size', 50).attr('font-weight', 700)
        .style('font-family', '"Noto Sans", sans-serif').style('fill', '#000').text(s);
}

function yTitle (x, yMid, len, size, s) {
    svg.append('text').attr('transform', `translate(${x},${yMid}) rotate(-90)`)
        .attr('text-anchor', 'middle').attr('font-size', size)
        .attr('textLength', len).attr('lengthAdjust', 'spacingAndGlyphs')
        .style('font-family', '"DejaVu Sans", sans-serif').style('fill', '#111').text(s);
}

// expand the grid values into [year, value] points
function onGrid (values) {
    return values.map((v, i) => {
        const t = i === values.length - 1 ? 2022.97 : 2003 + Math.floor(i / 6) + cycleOffsets[i % 6];
        return [t, v];
    });
}

// ---------------- panel a
const pa = makePanel(100, 1187, 7, 854, [2003, 2023], [-35, 54]);
grid(pa, xTicksYears.slice(1), yTicksA);
gapShade(pa);

const graceAPts = onGrid(graceA);
const omAPts = onGrid(omreconA);
const omSolid = omAPts.filter(d => d[0] <= 2018.42);
const omDash = omAPts.filter(d => d[0] >= 2018.42);

drawBand(pa, lwsNaturalA, lwsNaturalHalf, c.natural, .2);
drawBand(pa, lwsHumanA, lwsHumanHalf, c.human, .2);
drawBand(pa, antarcticaA.concat(antarcticaDashA.slice(1)), antarcticaHalf, c.antarctica, .2);
drawBand(pa, glaciersA.concat(glaciersDashA.slice(1)), glaciersHalf, c.glaciers, .2);
drawBand(pa, greenlandA, greenlandHalf, c.greenland, .2);
drawBand(pa, altimetryA, altimetryHalfA, c.altimetry, .2);
drawBand(pa, omAPts, omreconHalfA, c.omrecon, .24);
drawBand(pa, graceAPts.filter(d => d[0] < 2017.5), graceHalfA, '#000', .15);
drawBand(pa, graceAPts.filter(d => d[0] > 2018.5), graceHalfA, '#000', .15);

drawLine(pa, lwsNaturalA, '#70ab2c', 3.2);
drawLine(pa, lwsHumanA, c.human, 3.2);
drawLine(pa, greenlandA, c.greenland, 3.2);
drawLine(pa, glaciersA, c.glaciers, 3.2);
drawLine(pa, glaciersDashA, c.glaciers, 2.6, { dash: '14 12' });
drawLine(pa, antarcticaA, c.antarctica, 3.2);
drawLine(pa, antarcticaDashA, c.antarctica, 2.6, { dash: '14 12' });
drawLine(pa, omSolid, c.omrecon, 3.4);
drawLine(pa, omDash, c.glaciers, 2.6, { dash: '14 10' });
drawLine(pa, graceAPts, c.grace, 3.3);
drawLine(pa, altimetryA, c.altimetry, 3.4);

leftAxis(pa, yTicksA, 24, 10);
rightAxis(pa, yTicksA, 24, 9);
bottomAxis(pa, xTicksYears.concat(xExtraTicksA), null, 1, 0);

// zoom box over panel a and the link to panel b
svg.append('rect').attr('x', 561).attr('y', 9).attr('width', 623).attr('height', 410)
    .attr('fill', 'none').attr('stroke', c.box).attr('stroke-width', 4);
svg.append('line').attr('x1', 1186).attr('y1', 214).attr('x2', 1335).attr('y2', 251)
    .attr('stroke', c.box).attr('stroke-width', 3.6);

legendBox(113, 509, 11, 257);
const legendAColors = [c.greenland, c.glaciers, c.antarctica, c.human, c.natural, c.omrecon, c.grace, c.altimetry];
legendA.forEach((label, i) => legendRow(120, 172, 178, 29 + i * 29.8, label, legendAColors[i], 24.5));

panelLabel(1, 57, 'a');
yTitle(45, 432, 617, 31, 'Water-level equivalent mass change [mm]');

// ---------------- panel b
svg.append('rect').attr('x', 1334).attr('y', 2).attr('width', 664).attr('height', 498)
    .attr('fill', '#fff').attr('stroke', c.box).attr('stroke-width', 4);
const pb = makePanel(1422, 1934.5, 40, 445, [2012, 2023.02], [10, 55.1]);
grid(pb, xTicksB, yTicksB);
gapShade(pb);

drawBand(pb, uncorrectedB, altimetryHalfB, c.altimetry, .18);
drawBand(pb, altimetryB.filter(d => d[0] < 2016.1).concat(dottedB), altimetryHalfB, c.altimetry, .18);
drawBand(pb, altimetryB, altimetryHalfB, c.altimetry, .22);
drawBand(pb, graceB.filter(d => d[0] < 2017.5), graceHalfB, '#000', .2);
drawBand(pb, graceB.filter(d => d[0] > 2018.1), graceHalfB, '#000', .2);
drawBand(pb, omreconB.concat(omreconDashB.slice(1)), omreconHalfB, c.omrecon, .25);

drawLine(pb, omreconB, c.glaciers, 3);
drawLine(pb, omreconDashB, c.glaciers, 3, { dash: '13 11' });
drawLine(pb, uncorrectedB, c.altimetry, 3.2, { dash: '17 12' });
drawLine(pb, dottedB, c.altimetry, 3.4, { dash: '3.4 4' });
drawLine(pb, altimetryB, c.altimetry, 3.2);
drawLine(pb, graceB, c.grace, 3.6);

leftAxis(pb, yTicksB, 23, 8);
rightAxis(pb, yTicksB, 23, 8);
bottomAxis(pb, xTicksB, d => d.toFixed(1), 23, 15);

legendBox(1436, 1839, 54, 109);
legendRow(1443, 1489, 1497, 70, legendB[0], c.altimetry, 19.7, '15 10');
legendRow(1443, 1489, 1497, 94, legendB[1], c.altimetry, 19.7, '3.4 3.4');
panelLabel(1351, 64, 'b');

// ---------------- panel c
const pc = makePanel(100, 1187, 886, 1303, [2003, 2023], [-13, 7.4]);
grid(pc, xTicksYears.slice(1), yTicksC);
gapShade(pc);

const missionColors = ['#dce8f5', '#bcd5ee', '#9dc2e6', '#c5e0b4'];
const jasonX = d3.scaleLinear().domain([2003, 2023]).range([100, 1187]);
missionNames.forEach((name, i) => {
    svg.append('rect').attr('x', jasonX(missionStarts[i])).attr('y', 857)
        .attr('width', jasonX(missionEnds[i]) - jasonX(missionStarts[i])).attr('height', 29)
        .attr('fill', missionColors[i]);
});
missionNames.forEach((name, i) => {
    svg.append('text').attr('x', jasonX(missionTextX[i])).attr('y', 878).attr('text-anchor', 'middle')
        .attr('font-size', 19).style('font-family', '"Open Sans", sans-serif').style('fill', '#000').text(name);
});

// months of significant misfit: one dot per month inside each run
function runMonths (runs) {
    const out = [];
    runs.forEach(r => { for (let t = r[0]; t <= r[1] + .01; t += 1 / 12) out.push(t); });
    return out;
}
svg.append('g').selectAll('circle').data(runMonths(redRuns)).join('circle')
    .attr('cx', d => jasonX(d)).attr('cy', 894.5).attr('r', 2.2).attr('fill', '#f00');
svg.append('g').selectAll('circle').data(runMonths(blueRuns)).join('circle')
    .attr('cx', d => jasonX(d)).attr('cy', 894.5).attr('r', 2.2).attr('fill', '#00f');

drawBand(pc, resOmAlt, oliveHalf, c.olive, .24);
drawBand(pc, resOmAltDot, oliveHalf, c.olive, .16);
drawBand(pc, resGraceOm.filter(d => d[0] < 2017.5), navyHalf, c.navy, .22);
drawBand(pc, resGraceOm.filter(d => d[0] > 2018.1), navyHalf, c.navy, .22);
drawBand(pc, resGraceAlt.filter(d => d[0] < 2017.5), crimsonHalf, c.crimson, .26);
drawBand(pc, resGraceAlt.filter(d => d[0] > 2018.1), crimsonHalf, c.crimson, .26);
drawBand(pc, resGraceAltDot, crimsonHalf, c.crimson, .2);

const thin = { curve: d3.curveLinear, opacity: .8 };
drawLine(pc, thinGraceOm, '#3a7ab8', 1.5, thin);
drawLine(pc, thinGraceAlt, '#dc4a6e', 1.5, thin);
drawLine(pc, thinOmAlt, '#dcb22e', 1.5, thin);

pc.g.append('line').attr('x1', pc.left).attr('x2', 1184).attr('y1', pc.y(0)).attr('y2', pc.y(0))
    .attr('stroke', '#111').attr('stroke-width', 2);

drawLine(pc, resGraceOm, c.navy, 3.4);
drawLine(pc, resGraceAlt, c.crimson, 3.4);
drawLine(pc, resOmAlt, c.olive, 3.4);
drawLine(pc, resOmAltDot, c.olive, 3.2, { dash: '3.2 4.2' });
drawLine(pc, resGraceAltDot, c.crimsonDark, 3.2, { dash: '3.2 4.2' });

leftAxis(pc, yTicksC, 26, 9);
bottomAxis(pc, xTicksYears, d => String(d), 27, 16);

legendBox(113, 1140, 1193, 1289);
legendRow(120, 172, 178, 1212, legendC1[0], c.navy, 24.5);
legendRow(120, 172, 178, 1242, legendC1[1], c.crimson, 24.5);
legendRow(120, 172, 178, 1272, legendC1[2], c.crimsonDark, 24.5, '3.4 3.6');
legendRow(623, 675, 682, 1212, legendC2[0], c.olive, 24.5);
legendRow(623, 675, 682, 1242, legendC2[1], c.olive, 24.5, '3.4 3.6');
panelLabel(12, 963, 'c');
yTitle(52, 1119, 222, 32, 'Residuals [mm]');

// ---------------- panel d
const pd = makePanel(1356, 1978.7, 547, 929.5, [0, 11], [-1, 1]);
const monthIdx = d3.range(12);
grid(pd, monthIdx.slice(1), yTicksD.slice(1));

const up = (vals, hs) => vals.map((v, i) => v + hs[i]);
const low = (vals, hs) => vals.map((v, i) => v - hs[i]);
drawRange(pd, lwsHumanLowD, lwsHumanUpD, c.human, .2);
drawRange(pd, low(antarcticaD, antarcticaHalfD), up(antarcticaD, antarcticaHalfD), c.antarctica, .22);
drawRange(pd, low(glaciersD, glaciersHalfD), up(glaciersD, glaciersHalfD), c.glaciers, .22);
drawRange(pd, low(greenlandD, greenlandHalfD), up(greenlandD, greenlandHalfD), c.greenland, .22);

const monthPts = vals => vals.map((v, i) => [i, v]);
const straight = { curve: d3.curveLinear };
drawLine(pd, monthPts(greenlandD), '#2a78a8', 2.2, straight);
drawLine(pd, monthPts(glaciersD), c.glaciers, 2.2, straight);
drawLine(pd, monthPts(antarcticaD), '#d9a91f', 2.2, straight);
drawLine(pd, monthPts(lwsHumanD), c.human, 2.4, straight);

leftAxis(pd, yTicksD, 23, 10);
bottomAxis(pd, monthIdx, null, 1, 0);
panelLabel(1370, 613, 'd');

// ---------------- panel e
const pe = makePanel(1358.6, 1978.7, 959.3, 1321.3, [0, 11], [-15, 15]);
grid(pe, monthIdx.slice(1), yTicksE.slice(1));

drawRange(pe, altimetryLowE, altimetryUpE, c.altimetry, .2);
drawRange(pe, low(omreconE, omreconHalfE), up(omreconE, omreconHalfE), c.omrecon, .28);
drawRange(pe, low(graceE, graceHalfE), up(graceE, graceHalfE), '#000', .2);

drawLine(pe, monthPts(lwsNaturalE), '#7c9a3a', 2.6, straight);
drawLine(pe, monthPts(omreconE), '#d9641c', 3.4, straight);
drawLine(pe, monthPts(graceE), c.grace, 3.4, straight);
drawLine(pe, monthPts(altimetryE), c.altimetry, 3.4, straight);

leftAxis(pe, yTicksE, 24, 9);
bottomAxis(pe, monthIdx, i => monthLabels[i], 23.5, 12);
panelLabel(1373, 1001, 'e');

yTitle(1292, 927, 750, 29, 'Seasonal water-level equivalent mass change [mm]');
</script>
</body>
</html>
